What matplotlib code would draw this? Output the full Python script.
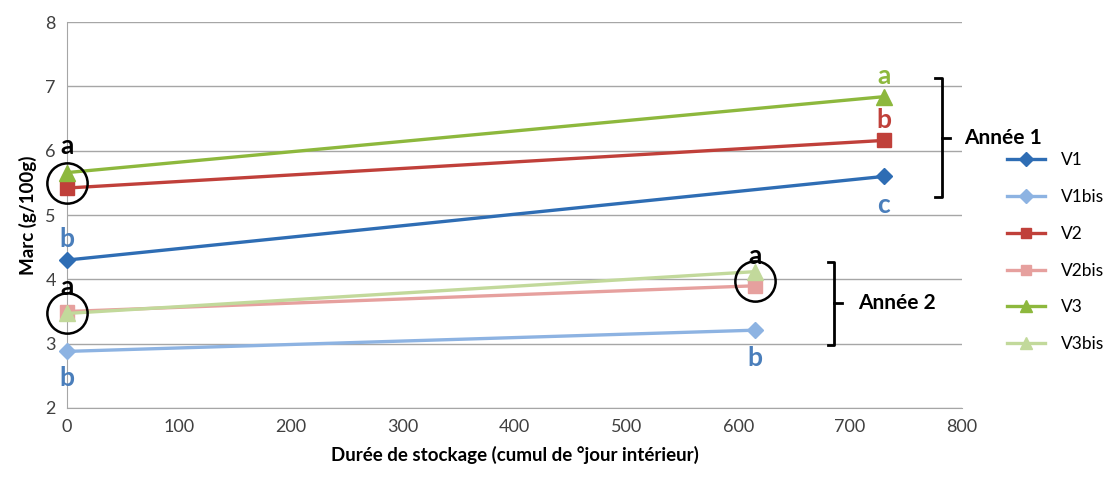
import matplotlib
matplotlib.use("Agg")
import matplotlib.pyplot as plt

plt.rcParams['font.family'] = ['Lato', 'DejaVu Sans']

# data
x_an1 = [0, 730]
x_an2 = [0, 615]
v1 = [4.30, 5.60]
v2 = [5.42, 6.16]
v3 = [5.66, 6.84]
v1bis = [2.88, 3.21]
v2bis = [3.50, 3.90]
v3bis = [3.47, 4.12]

series = [
    ("V1", x_an1, v1, '#2E6DB4', 'D'),
    ("V1bis", x_an2, v1bis, '#8DB3E2', 'D'),
    ("V2", x_an1, v2, '#C0403A', 's'),
    ("V2bis", x_an2, v2bis, '#E6A09E', 's'),
    ("V3", x_an1, v3, '#8DB83D', '^'),
    ("V3bis", x_an2, v3bis, '#C2D99B', '^'),
]

# significance letters: (x, y, text, colour)
letters = [
    (0, 6.07, "a", "black"),
    (0, 4.62, "b", "#4A7EBB"),
    (0, 3.88, "a", "black"),
    (0, 2.46, "b", "#4A7EBB"),
    (730, 7.16, "a", "#8DB83D"),
    (730, 6.47, "b", "#C0403A"),
    (730, 5.16, "c", "#4A7EBB"),
    (615, 4.36, "a", "black"),
    (615, 2.77, "b", "#4A7EBB"),
]
circles_x = [0, 0, 615]
circles_y = [5.50, 3.48, 3.97]

fig = plt.figure(figsize=(11.09, 4.80), dpi=100)
ax = fig.add_axes([0.0604, 0.15, 0.807, 0.804])

for name, xs, ys, col, mk in series:
    ms = 9.5 if mk == 's' else (11.5 if mk == '^' else 8.5)
    ax.plot(xs, ys, color=col, lw=2.4, marker=mk, markersize=ms,
            label=name, clip_on=False, zorder=3)

ax.plot(circles_x, circles_y, linestyle='none', marker='o', markersize=29,
        markerfacecolor='none', markeredgecolor='black', markeredgewidth=1.8,
        clip_on=False, zorder=4)

for lx, ly, t, c in letters:
    ax.text(lx, ly, t, color=c, fontsize=19, fontweight='bold',
            ha='center', va='center', zorder=5)

# brackets
def bracket(x, top, bottom, dx=6, dy_tick=7):
    kw = dict(color='black', lw=2, clip_on=False, transform=ax.transData)
    ax.plot([x - dx, x, x, x - dx], [top, top, bottom, bottom], **kw)
    mid = (top + bottom) / 2
    ax.plot([x, x + dy_tick], [mid, mid], **kw)
    return mid

m1 = bracket(782, 7.13, 5.28)
ax.text(802, m1, "Année 1", fontsize=15, fontweight='bold', va='center',
        ha='left', clip_on=False)
m2 = bracket(686, 4.27, 2.98)
ax.text(707, m2, "Année 2", fontsize=15, fontweight='bold', va='center',
        ha='left', clip_on=False)

ax.set_xlim(0, 800)
ax.set_ylim(2, 8)
ax.set_xticks(range(0, 801, 100))
ax.set_yticks(range(2, 9))
ax.tick_params(length=0, labelsize=13, colors='#404040', pad=8)
ax.grid(axis='y', color='#A6A6A6', lw=1)
ax.set_axisbelow(True)
for s in ['top', 'right']:
    ax.spines[s].set_visible(False)
for s in ['left', 'bottom']:
    ax.spines[s].set_color('#A6A6A6')
ax.set_xlabel("Durée de stockage (cumul de °jour intérieur)", fontsize=13.5,
              fontweight='bold', labelpad=8)
ax.set_ylabel("Marc (g/100g)", fontsize=13.5, fontweight='bold', labelpad=6)

fig.legend(loc='upper left', bbox_to_anchor=(0.908, 0.683), frameon=False,
           fontsize=12.5, handlelength=2.2, handletextpad=0.9,
           labelspacing=1.2, markerscale=0.8, borderpad=0, borderaxespad=0)

fig.savefig("out.png", dpi=100)
